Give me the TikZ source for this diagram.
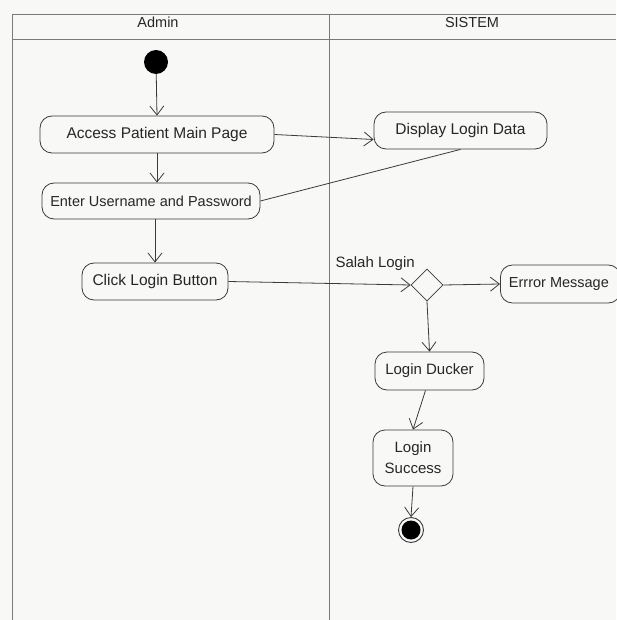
\documentclass[tikz,border=0pt]{standalone}
\usepackage{fontspec}
\setmainfont{Liberation Sans}
\usetikzlibrary{arrows.meta,shapes.geometric,positioning}
\definecolor{paper}{HTML}{F8F8F6}
\definecolor{ink}{HTML}{3A3A3A}
\definecolor{frameline}{HTML}{7A7A7A}
\tikzset{
  act/.style={draw=ink, line width=0.8pt, rounded corners=12pt, fill=paper,
    inner sep=0pt, align=center, text=black!85, font=\fontsize{15.5}{18}\selectfont},
  flow/.style={draw=ink, line width=0.8pt, -{Straight Barb[length=9pt,width=14pt]}},
  plain/.style={draw=ink, line width=0.8pt},
  lane/.style={draw=frameline, line width=0.8pt},
  lanetitle/.style={font=\fontsize{14.5}{17}\selectfont, text=black!85},
  decision/.style={draw=ink, line width=0.8pt, diamond, fill=paper,
    minimum width=32pt, minimum height=32pt, inner sep=0pt}
}
\begin{document}
\begin{tikzpicture}[x=1pt,y=-1pt]
  \useasboundingbox (0,0) rectangle (616,620);
  \fill[paper] (0,0) rectangle (616,620);

  % swimlane frame
  \draw[lane] (12,620) -- (12,14) -- (616,14);
  \draw[lane] (12,39) -- (616,39);
  \draw[lane] (329,14) -- (329,620);
  \node[lanetitle] (adminhead) at (158,22.5) {Admin};
  \node[lanetitle] (sistemhead) at (472,22.5) {SISTEM};

  % Admin lane
  \node[circle, fill=black, minimum size=24pt, inner sep=0pt] (start) at (156,62) {};
  \node[act, minimum width=234pt, minimum height=37pt] (access) at (157,134.5) {Access Patient Main Page};
  \node[act, minimum width=218pt, minimum height=36pt, font=\fontsize{14.5}{17}\selectfont] (enter) at (151,201) {Enter Username and Password};
  \node[act, minimum width=146pt, minimum height=37pt] (click) at (155,281.5) {Click Login Button};

  % SISTEM lane
  \node[act, minimum width=173pt, minimum height=37pt] (display) at (460.5,130.5) {Display Login Data};
  \node[decision] (dec) at (427,285) {};
  \node[font=\fontsize{15}{18}\selectfont, text=black!85, anchor=south west] (salah) at (332,274) {Salah Login};
  \node[act, minimum width=120pt, minimum height=38pt, font=\fontsize{14.5}{17}\selectfont, anchor=west] (error) at (500,284) {\hspace*{-3pt}Errror Message};
  \node[act, minimum width=109pt, minimum height=38pt, font=\fontsize{15}{18}\selectfont] (ducker) at (429.5,371) {Login Ducker};
  \node[act, minimum width=80pt, minimum height=56pt, font=\fontsize{15}{21}\selectfont] (success) at (413,458) {Login\\Success};
  \node[circle, draw=ink, line width=0.9pt, fill=paper, minimum size=25pt, inner sep=0pt] (finish) at (411,530) {};
  \node[circle, fill=black, minimum size=19pt, inner sep=0pt] (finishdot) at (finish) {};

  % flows
  \draw[flow] (start) -- (access.north);
  \draw[flow] (access.south) -- (enter.north -| access.south);
  \draw[flow] ([xshift=4pt]enter.south) -- (click.north);
  \draw[flow] (access.east) -- ([yshift=-9pt]display.west);
  \draw[plain] (display.south) -- (enter.east);
  \draw[flow] (click.east) -- (dec.west);
  \draw[flow] (dec.east) -- (error.west);
  \draw[flow] (dec.south) -- (ducker.north);
  \draw[flow] ([xshift=-4pt]ducker.south) -- (success.north);
  \draw[flow] (success.south) -- (finish.north);
\end{tikzpicture}
\end{document}
